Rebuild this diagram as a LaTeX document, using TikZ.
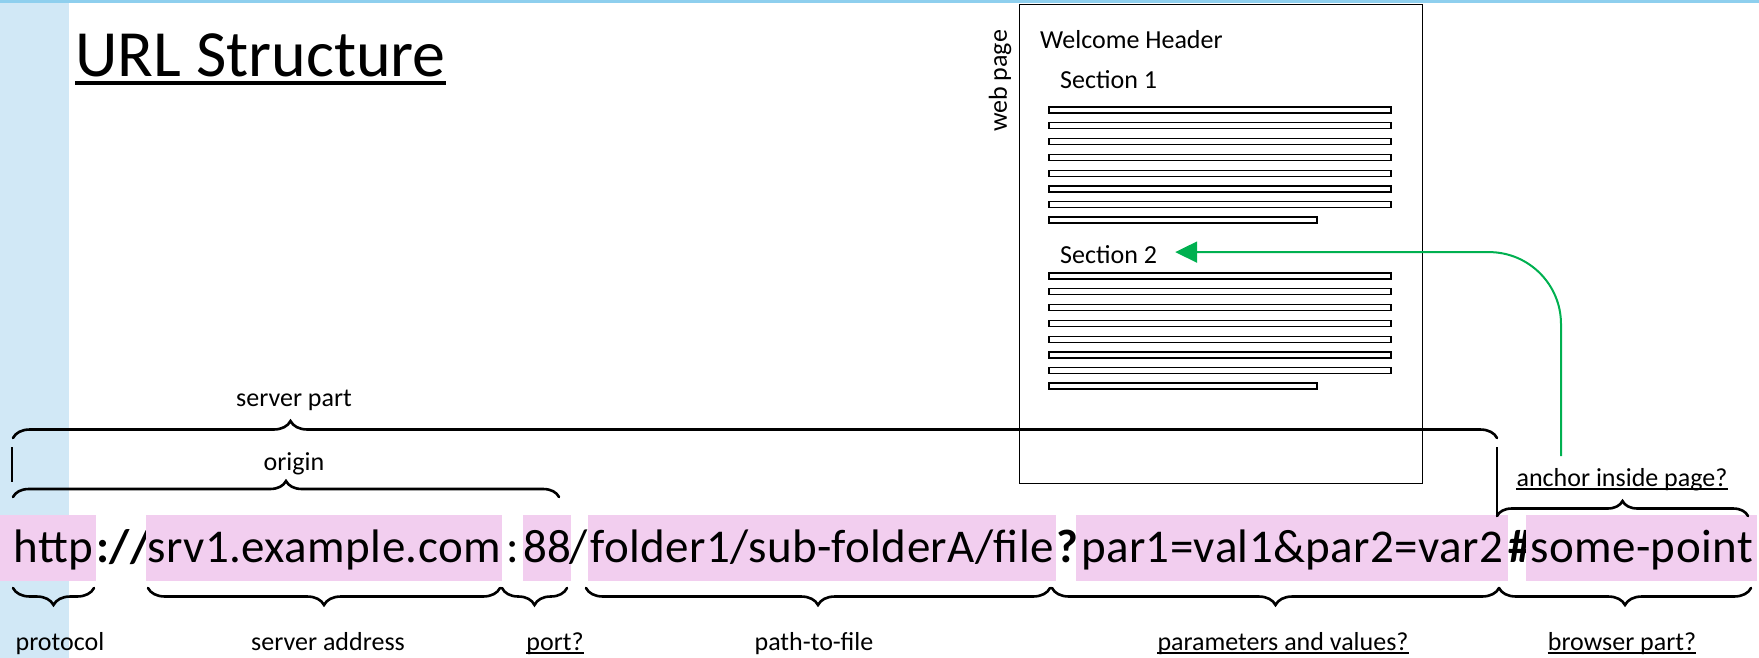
\documentclass[tikz,border=0pt]{standalone}
\usepackage{fontspec}
\setmainfont{Carlito}
\newfontfamily\urlfont[LetterSpace=0.9]{Carlito}
\usetikzlibrary{arrows.meta,decorations.pathreplacing,positioning}
\definecolor{SlideBlue}{RGB}{209,232,246}
\definecolor{RuleBlue}{RGB}{142,207,238}
\definecolor{PartPink}{RGB}{242,206,239}
\definecolor{LinkGreen}{RGB}{0,176,80}

\begin{document}
\begin{tikzpicture}[x=1pt,y=-1pt,
  lbl/.style={inner sep=0pt,font=\fontsize{26}{30}\selectfont},
  part/.style={anchor=west,inner xsep=0pt,inner ysep=10pt,text height=37pt,text depth=9pt,
    font=\urlfont\fontsize{47}{56}\selectfont},
  hl/.style={part,fill=PartPink},
  sep/.style={part,font=\urlfont\fontsize{47}{56}\selectfont\bfseries},
  brc/.style={decorate,decoration={brace,amplitude=#1},line width=2.6pt,line cap=round},
  brcdown/.style={decorate,decoration={brace,amplitude=17pt,mirror},line width=2.6pt,line cap=round},
  tick/.style={line width=1.3pt},
  bar/.style={draw,line width=1.3pt},
  ul/.style={line width=1.3pt},
  jump/.style={-{Triangle[length=22pt,width=21pt]},draw=LinkGreen,line width=2pt,rounded corners=72pt}
]
\useasboundingbox (0,0) rectangle (1759,658);
\fill[SlideBlue] (0,0) rectangle (69,658);
\fill[RuleBlue] (0,0) rectangle (1759,3.5);

\node[inner sep=0pt,anchor=base west,font=\fontsize{66}{70}\selectfont] (title) at (75,77) {URL Structure};
\draw[line width=4pt] ([yshift=-6pt]title.base west) -- ([yshift=-6pt]title.base east);

% the address, piece by piece
\node[hl,inner xsep=3pt,text width=90pt,align=right] (proto) at (0,548) {http};
\node[sep,minimum width=50pt] (slashes) at (96,548) {://};
\node[hl,minimum width=356pt] (host) at (146,548) {srv1.example.com};
\node[part,minimum width=21pt] (colon) at (502,548) {:};
\node[hl,minimum width=46pt] (port) at (523,548) {88};
\node[part,minimum width=19pt] (slash) at (569,548) {/};
\node[hl,minimum width=468pt] (path) at (588,548) {folder1/sub-folderA/file};
\node[sep,minimum width=20pt] (qmark) at (1056,548) {?};
\node[hl,minimum width=432pt] (query) at (1076,548) {par1=val1\&par2=var2};
\node[sep,minimum width=18pt] (hash) at (1508,548) {\#};
\node[hl,minimum width=231pt] (frag) at (1526,548) {some-point};

% web page sketch
\node[draw,line width=1.3pt,inner sep=0pt,anchor=north west,minimum width=403pt,minimum height=479pt] (page) at (1019,4) {};
\node[lbl,rotate=90] (wp) at (1000,81) {web page};
\node[lbl,anchor=base west] (head) at (1040,49) {Welcome Header};
\node[lbl,anchor=base west] (sec1) at (1060,89) {Section 1};
\node[lbl,anchor=base west] (sec2) at (1060,263) {Section 2};
\foreach \y in {0,...,6}{
  \draw[bar] (1049,110+15.8*\y-3) rectangle (1391,110+15.8*\y+3);
  \draw[bar] (1049,276+15.8*\y-3) rectangle (1391,276+15.8*\y+3);
}
\draw[bar] (1049,217) rectangle (1317,223);
\draw[bar] (1049,383) rectangle (1317,389);

% braces above
\draw[brc=17pt,decoration={aspect=0.187}] (13,438) -- (1497,438);
\draw[brc=16pt] (13,497) -- (559,497);
\draw[brc=15pt] (1497,516) -- (1748,516);
\draw[tick] (12,447) -- (12,482);
\draw[tick] (1497,447) -- (1497,515);
\node[lbl,anchor=base] (srvpart) at (294,406) {server part};
\node[lbl,anchor=base] (orig) at (294,470) {origin};
\node[lbl,anchor=base] (anchorlbl) at (1622,486) {anchor inside page?};

% braces below
\draw[brcdown] (13,588) -- (94,588);
\draw[brcdown] (148,588) -- (500,588);
\draw[brcdown] (502,588) -- (567,588);
\draw[brcdown] (586,588) -- (1050,588);
\draw[brcdown] (1052,588) -- (1499,588);
\draw[brcdown] (1499,588) -- (1751,588);
\node[lbl,anchor=base] (protolbl) at (60,650) {protocol};
\node[lbl,anchor=base] (hostlbl) at (328,650) {server address};
\node[lbl,anchor=base] (portlbl) at (555,650) {port?};
\node[lbl,anchor=base] (pathlbl) at (814,650) {path-to-file};
\node[lbl,anchor=base] (querylbl) at (1283,650) {parameters and values?};
\node[lbl,anchor=base] (fraglbl) at (1622,650) {browser part?};
\foreach \n in {portlbl,querylbl,fraglbl,anchorlbl}
  \draw[ul] ([yshift=-3pt]\n.base west) -- ([yshift=-3pt]\n.base east);

\coordinate (hook) at (1561,456);
\draw[jump] (hook) |- ([xshift=18pt,yshift=2pt]sec2.east);
\end{tikzpicture}
\end{document}
